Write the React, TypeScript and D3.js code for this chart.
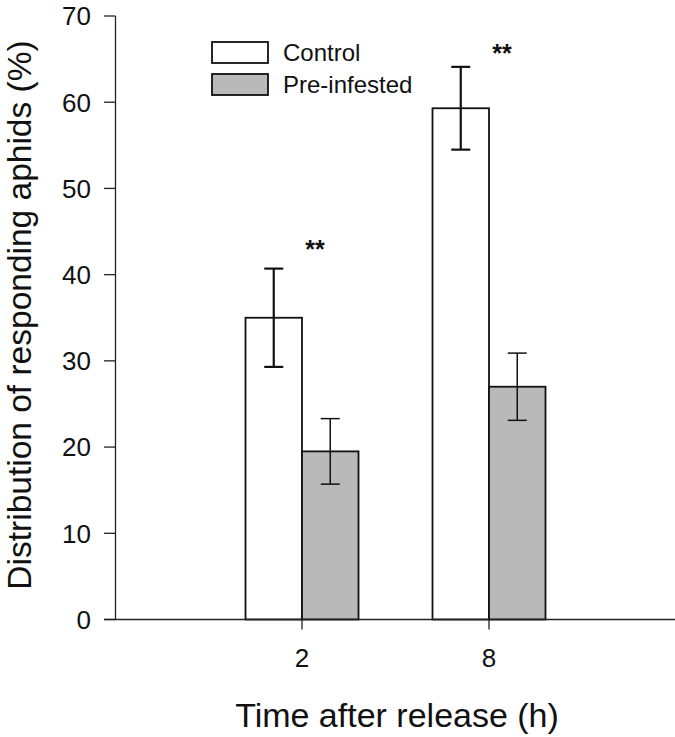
import React from "react";
import * as d3 from "d3";

const categories = ["2", "8"];
const seriesNames = ["Control", "Pre-infested"];
const controlValues = [35.0, 59.3];
const controlErr = [5.7, 4.8];
const preValues = [19.5, 27.0];
const preErr = [3.8, 3.9];
const yTicks = [0, 10, 20, 30, 40, 50, 60, 70];
const sigLabels = ["**", "**"];
const sigY = [44, 66.8];

const W = 675;
const H = 737;
const FONT = "Liberation Sans, Arial, sans-serif";
const colors = ["#ffffff", "#b9b9b9"];

export default function App() {
  const y = d3.scaleLinear().domain([0, 70]).range([619.5, 16]);
  const x = d3.scalePoint<string>().domain(categories).range([302, 489]);
  const inner = d3.scaleBand<string>().domain(seriesNames).range([-56.5, 56.5]);
  const axisX0 = 115.5;
  const series = [
    { name: seriesNames[0], values: controlValues, err: controlErr, color: colors[0], ew: 2.2 },
    { name: seriesNames[1], values: preValues, err: preErr, color: colors[1], ew: 1.5 },
  ];
  return (
    <svg width={W} height={H} style={{ position: "absolute", left: 0, top: 0, background: "#fff" }} fontFamily={FONT}>
      {series.map((s) =>
        categories.map((c, i) => {
          const bx = (x(c) as number) + (inner(s.name) as number);
          const bw = inner.bandwidth();
          return (
            <rect key={s.name + c} x={bx} y={y(s.values[i])} width={bw} height={y(0) - y(s.values[i])}
              fill={s.color} stroke="#111" strokeWidth={1.8} />
          );
        })
      )}
      {series.map((s) =>
        categories.map((c, i) => {
          const cx = (x(c) as number) + (inner(s.name) as number) + inner.bandwidth() / 2;
          const top = y(s.values[i] + s.err[i]);
          const bot = y(s.values[i] - s.err[i]);
          return (
            <g key={"e" + s.name + c} stroke="#111" strokeWidth={s.ew}>
              <line x1={cx} x2={cx} y1={top} y2={bot} />
              <line x1={cx - 9.5} x2={cx + 9.5} y1={top} y2={top} />
              <line x1={cx - 9.5} x2={cx + 9.5} y1={bot} y2={bot} />
            </g>
          );
        })
      )}
      {categories.map((c, i) => (
        <text key={"s" + c} x={(x(c) as number) + 13} y={y(sigY[i])} textAnchor="middle" fontSize={25} fontWeight="bold" fill="#111" dy="0.72em">
          {sigLabels[i]}
        </text>
      ))}
      <line x1={axisX0} x2={axisX0} y1={y(70)} y2={y(0)} stroke="#222" strokeWidth={1.3} />
      <line x1={104} x2={W} y1={y(0)} y2={y(0)} stroke="#222" strokeWidth={1.3} />
      {yTicks.map((t) => (
        <g key={"yt" + t}>
          <line x1={104} x2={axisX0} y1={y(t)} y2={y(t)} stroke="#222" strokeWidth={1.3} />
          <text x={91} y={y(t)} dy="0.36em" textAnchor="end" fontSize={26} fill="#111">{t}</text>
        </g>
      ))}
      {categories.map((c) => (
        <g key={"xt" + c}>
          <line x1={x(c)} x2={x(c)} y1={y(0)} y2={y(0) + 10} stroke="#222" strokeWidth={1.3} />
          <text x={x(c)} y={y(0) + 47.5} textAnchor="middle" fontSize={26} fill="#111">{c}</text>
        </g>
      ))}
      <text x={397} y={727} textAnchor="middle" fontSize={34} fill="#111">Time after release (h)</text>
      <text transform={`translate(31,315) rotate(-90)`} textAnchor="middle" fontSize={33.5} fill="#111">
        Distribution of responding aphids (%)
      </text>
      {series.map((s, i) => (
        <g key={"lg" + s.name} transform={`translate(212,${42 + i * 32})`}>
          <rect x={0} y={0} width={56} height={21} fill={s.color} stroke="#111" strokeWidth={1.8} />
          <text x={71} y={10.5} dy="0.36em" fontSize={24} fill="#111">{s.name}</text>
        </g>
      ))}
    </svg>
  );
}
